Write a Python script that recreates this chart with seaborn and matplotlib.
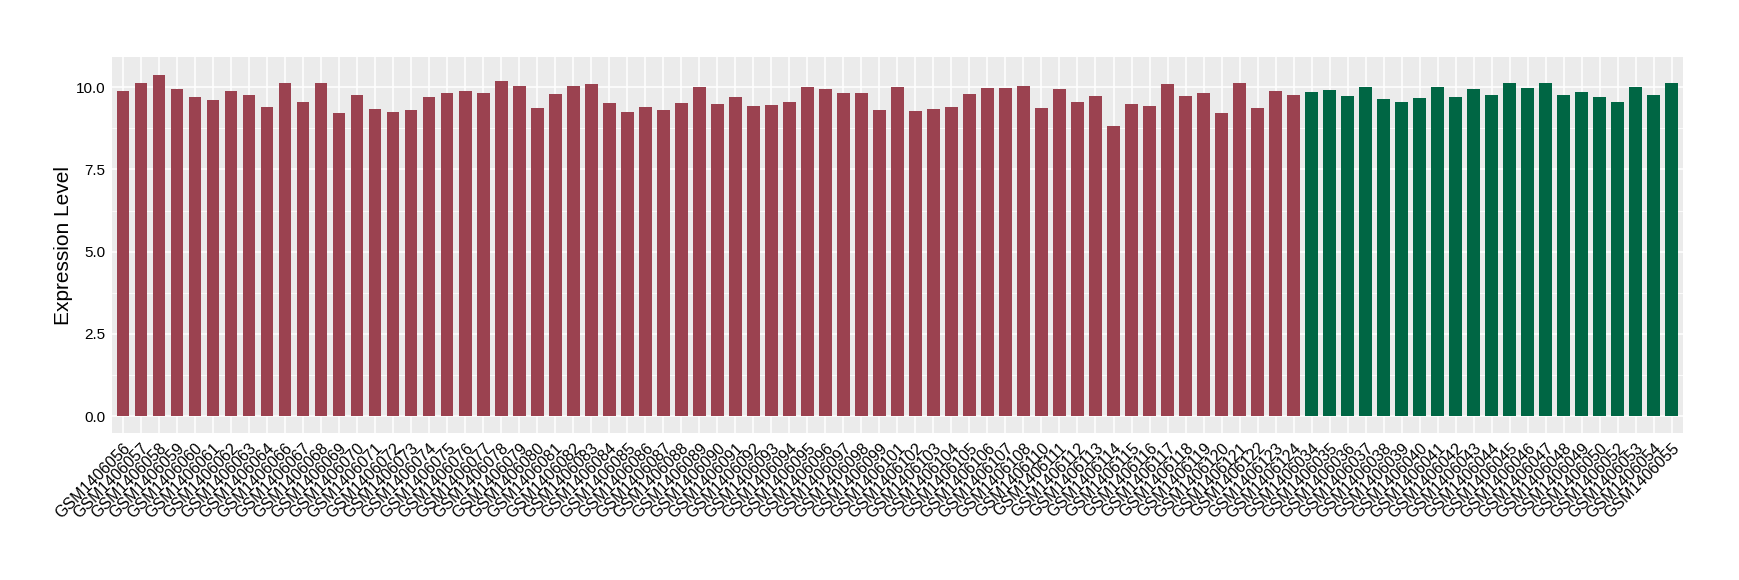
import numpy as np
import pandas as pd
import matplotlib
matplotlib.use('Agg')
import matplotlib.pyplot as plt
import seaborn as sns
from matplotlib.ticker import MultipleLocator

# sample ids, first group then second group
group_a = ['GSM1406056', 'GSM1406057', 'GSM1406058', 'GSM1406059', 'GSM1406060',
           'GSM1406061', 'GSM1406062', 'GSM1406063', 'GSM1406064', 'GSM1406066',
           'GSM1406067', 'GSM1406068', 'GSM1406069', 'GSM1406070', 'GSM1406071',
           'GSM1406072', 'GSM1406073', 'GSM1406074', 'GSM1406075', 'GSM1406076',
           'GSM1406077', 'GSM1406078', 'GSM1406079', 'GSM1406080', 'GSM1406081',
           'GSM1406082', 'GSM1406083', 'GSM1406084', 'GSM1406085', 'GSM1406086',
           'GSM1406087', 'GSM1406088', 'GSM1406089', 'GSM1406090', 'GSM1406091',
           'GSM1406092', 'GSM1406093', 'GSM1406094', 'GSM1406095', 'GSM1406096',
           'GSM1406097', 'GSM1406098', 'GSM1406099', 'GSM1406101', 'GSM1406102',
           'GSM1406103', 'GSM1406104', 'GSM1406105', 'GSM1406106', 'GSM1406107',
           'GSM1406108', 'GSM1406110', 'GSM1406111', 'GSM1406112', 'GSM1406113',
           'GSM1406114', 'GSM1406115', 'GSM1406116', 'GSM1406117', 'GSM1406118',
           'GSM1406119', 'GSM1406120', 'GSM1406121', 'GSM1406122', 'GSM1406123',
           'GSM1406124']
values_a = [9.87, 10.11, 10.38, 9.93, 9.69, 9.60, 9.87, 9.75, 9.41, 10.14,
            9.56, 10.11, 9.20, 9.75, 9.32, 9.23, 9.29, 9.69, 9.81, 9.87,
            9.81, 10.20, 10.02, 9.38, 9.78, 10.02, 10.08, 9.53, 9.23, 9.41,
            9.29, 9.53, 9.99, 9.50, 9.69, 9.44, 9.47, 9.56, 9.99, 9.93,
            9.81, 9.81, 9.29, 9.99, 9.26, 9.32, 9.41, 9.78, 9.96, 9.96,
            10.02, 9.35, 9.93, 9.56, 9.72, 8.81, 9.50, 9.44, 10.08, 9.72,
            9.81, 9.20, 10.14, 9.38, 9.87, 9.75]

group_b = ['GSM1406034', 'GSM1406035', 'GSM1406036', 'GSM1406037', 'GSM1406038',
           'GSM1406039', 'GSM1406040', 'GSM1406041', 'GSM1406042', 'GSM1406043',
           'GSM1406044', 'GSM1406045', 'GSM1406046', 'GSM1406047', 'GSM1406048',
           'GSM1406049', 'GSM1406050', 'GSM1406052', 'GSM1406053', 'GSM1406054',
           'GSM1406055']
values_b = [9.84, 9.90, 9.72, 9.99, 9.63, 9.56, 9.66, 9.99, 9.69, 9.93,
            9.75, 10.11, 9.96, 10.11, 9.75, 9.84, 9.69, 9.56, 9.99, 9.75,
            10.11]

df = pd.DataFrame({
    'sample': group_a + group_b,
    'value': values_a + values_b,
    'group': ['A'] * len(group_a) + ['B'] * len(group_b),
})

sns.set_style('white')
plt.rcParams['font.family'] = ['Liberation Sans', 'DejaVu Sans']

fig = plt.figure(figsize=(17.4, 5.8), dpi=100)
ax = fig.add_axes([0.0645, 0.253, 0.9025, 0.649])
ax.set_facecolor('#EBEBEB')

sns.barplot(data=df, x='sample', y='value', hue='group', order=df['sample'],
            palette={'A': '#9B4250', 'B': '#006644'}, width=0.7,
            dodge=False, legend=False, saturation=1, linewidth=0, ax=ax)

ax.set_xlim(-0.6, len(df) - 0.4)
ax.set_ylim(-0.52, 10.92)
ax.yaxis.set_minor_locator(MultipleLocator(1.25))
ax.set_yticks([0, 2.5, 5, 7.5, 10], ['0.0', '2.5', '5.0', '7.5', '10.0'])

ax.grid(which='major', color='white', linewidth=1.1)
ax.grid(which='minor', axis='y', color='white', linewidth=0.55)
ax.set_axisbelow(True)
for s in ax.spines.values():
    s.set_visible(False)

ax.tick_params(axis='both', which='major', length=3, width=0.8, color='#333333',
               labelcolor='black', pad=2)
ax.tick_params(axis='y', labelsize=11)
ax.tick_params(axis='x', labelsize=11.5)
ax.tick_params(axis='y', which='minor', length=0)
plt.setp(ax.get_xticklabels(), rotation=45, ha='right', rotation_mode='anchor')

ax.set_xlabel('')
ax.set_ylabel('Expression Level', fontsize=15, labelpad=2, color='black')

fig.savefig('out.png', dpi=100)
